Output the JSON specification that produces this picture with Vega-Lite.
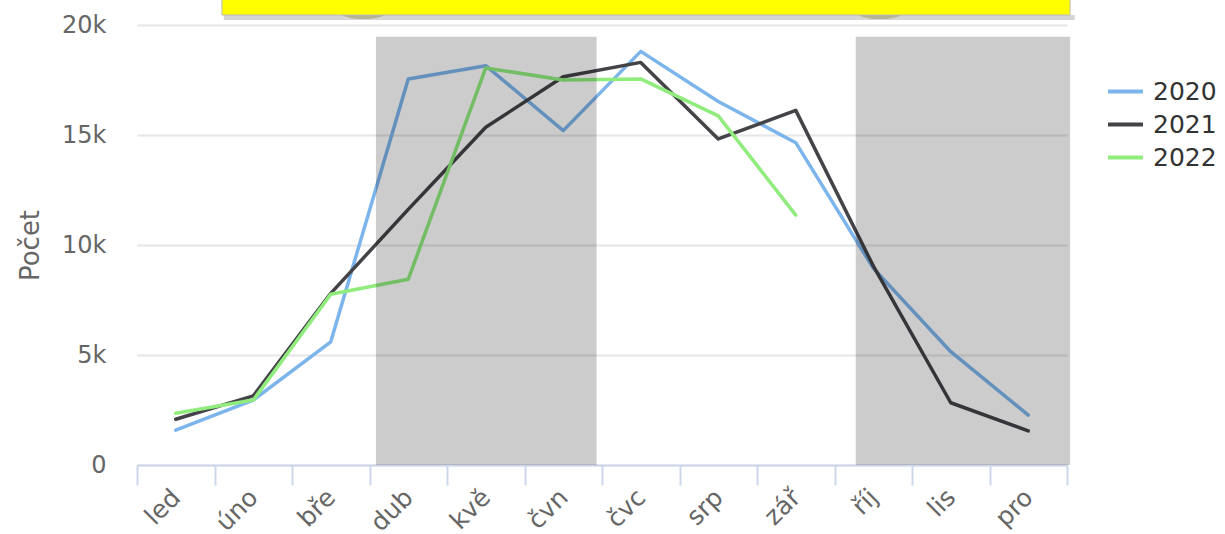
{
  "$schema": "https://vega.github.io/schema/vega-lite/v6.json",
  "width": 930,
  "height": 440,
  "autosize": {"type": "none"},
  "padding": {"left": 137, "top": 25, "right": 158, "bottom": 69},
  "background": "white",
  "config": {"view": {"stroke": null}, "font": "DejaVu Sans"},
  "datasets": {
    "series": [
      {"month": "led", "year": "2020", "value": 1580},
      {"month": "úno", "year": "2020", "value": 2950},
      {"month": "bře", "year": "2020", "value": 5600},
      {"month": "dub", "year": "2020", "value": 17550},
      {"month": "kvě", "year": "2020", "value": 18150},
      {"month": "čvn", "year": "2020", "value": 15200},
      {"month": "čvc", "year": "2020", "value": 18800},
      {"month": "srp", "year": "2020", "value": 16520},
      {"month": "zář", "year": "2020", "value": 14650},
      {"month": "říj", "year": "2020", "value": 8950},
      {"month": "lis", "year": "2020", "value": 5150},
      {"month": "pro", "year": "2020", "value": 2270},
      {"month": "led", "year": "2021", "value": 2080},
      {"month": "úno", "year": "2021", "value": 3140},
      {"month": "bře", "year": "2021", "value": 7800},
      {"month": "dub", "year": "2021", "value": 11620},
      {"month": "kvě", "year": "2021", "value": 15350},
      {"month": "čvn", "year": "2021", "value": 17650},
      {"month": "čvc", "year": "2021", "value": 18300},
      {"month": "srp", "year": "2021", "value": 14820},
      {"month": "zář", "year": "2021", "value": 16120},
      {"month": "říj", "year": "2021", "value": 9050},
      {"month": "lis", "year": "2021", "value": 2830},
      {"month": "pro", "year": "2021", "value": 1550},
      {"month": "led", "year": "2022", "value": 2350},
      {"month": "úno", "year": "2022", "value": 2950},
      {"month": "bře", "year": "2022", "value": 7760},
      {"month": "dub", "year": "2022", "value": 8440},
      {"month": "kvě", "year": "2022", "value": 18050},
      {"month": "čvn", "year": "2022", "value": 17500},
      {"month": "čvc", "year": "2022", "value": 17550},
      {"month": "srp", "year": "2022", "value": 15870},
      {"month": "zář", "year": "2022", "value": 11360}
    ],
    "bands": [
      {"from": 3.083, "to": 5.93, "bottom": 0, "top": 19470},
      {"from": 9.274, "to": 12.04, "bottom": 0, "top": 19470}
    ],
    "blobs": [
      {"pos": 2.92, "level": 20682},
      {"pos": 9.585, "level": 20682}
    ],
    "box": [
      {"from": 1.096, "to": 12.04, "bottom": 20455, "top": 21300}
    ],
    "shadow": [
      {"from": 1.12, "to": 12.1, "bottom": 20230, "top": 20455}
    ]
  },
  "layer": [
    {
      "data": {"name": "series"},
      "mark": {"type": "line", "strokeWidth": 3.5, "strokeJoin": "round", "strokeCap": "round", "clip": false},
      "encoding": {
        "x": {
          "field": "month",
          "type": "ordinal",
          "sort": ["led", "úno", "bře", "dub", "kvě", "čvn", "čvc", "srp", "zář", "říj", "lis", "pro"],
          "bandPosition": 0.5,
          "scale": {"type": "band", "paddingInner": 0, "paddingOuter": 0},
          "axis": {
            "title": null,
            "tickBand": "extent",
            "labelAngle": -45,
            "labelAlign": "right",
            "labelBaseline": "middle",
            "labelFontSize": 25,
            "labelColor": "#666666",
            "labelPadding": 8,
            "domainColor": "#ccd6eb",
            "domainWidth": 2,
            "tickColor": "#ccd6eb",
            "tickWidth": 2,
            "tickSize": 20,
            "grid": false
          }
        },
        "y": {
          "field": "value",
          "type": "quantitative",
          "title": "Počet",
          "scale": {"domain": [0, 20000], "nice": false},
          "axis": {
            "values": [0, 5000, 10000, 15000, 20000],
            "labelExpr": "datum.value == 0 ? '0' : (datum.value / 1000) + 'k'",
            "ticks": false,
            "domain": false,
            "gridColor": "#e6e6e6",
            "gridWidth": 2,
            "labelFontSize": 24,
            "labelColor": "#666666",
            "labelPadding": 31,
            "titleFontSize": 26,
            "titleColor": "#666666",
            "titleFontWeight": "normal",
            "titlePadding": 18
          }
        },
        "color": {
          "field": "year",
          "type": "nominal",
          "scale": {"domain": ["2020", "2021", "2022"], "range": ["#7cb5ec", "#434348", "#90ed7d"]},
          "legend": {
            "title": null,
            "orient": "none",
            "legendX": 969,
            "legendY": 47,
            "symbolType": "stroke",
            "symbolSize": 1225,
            "symbolStrokeWidth": 4,
            "labelFontSize": 25,
            "labelColor": "#333333",
            "labelOffset": 8,
            "rowPadding": 0
          }
        }
      }
    },
    {
      "layer": [
        {
          "data": {"name": "bands"},
          "mark": {"type": "rect", "color": "black", "opacity": 0.2, "clip": false},
          "encoding": {
            "x": {"field": "from", "type": "quantitative", "scale": {"domain": [0, 12], "nice": false, "zero": false}, "axis": null},
            "x2": {"field": "to"},
            "y": {"field": "bottom", "type": "quantitative", "title": "Počet"},
            "y2": {"field": "top"}
          }
        },
        {
          "data": {"name": "blobs"},
          "mark": {"type": "point", "filled": true, "color": "#a8a040", "opacity": 0.55, "size": 2704, "shape": "M-1,0A1,0.35,0,1,0,1,0A1,0.35,0,1,0,-1,0Z", "clip": false},
          "encoding": {
            "x": {"field": "pos", "type": "quantitative", "axis": null},
            "y": {"field": "level", "type": "quantitative", "title": "Počet"}
          }
        },
        {
          "data": {"name": "shadow"},
          "mark": {"type": "rect", "color": "#888888", "opacity": 0.35, "clip": false},
          "encoding": {
            "x": {"field": "from", "type": "quantitative", "axis": null},
            "x2": {"field": "to"},
            "y": {"field": "bottom", "type": "quantitative", "title": "Počet"},
            "y2": {"field": "top"}
          }
        },
        {
          "data": {"name": "box"},
          "mark": {"type": "rect", "fill": "#ffff00", "stroke": "#bbbbbb", "strokeWidth": 1, "clip": false},
          "encoding": {
            "x": {"field": "from", "type": "quantitative", "axis": null},
            "x2": {"field": "to"},
            "y": {"field": "bottom", "type": "quantitative", "title": "Počet"},
            "y2": {"field": "top"}
          }
        }
      ]
    }
  ],
  "resolve": {"scale": {"x": "independent"}}
}
